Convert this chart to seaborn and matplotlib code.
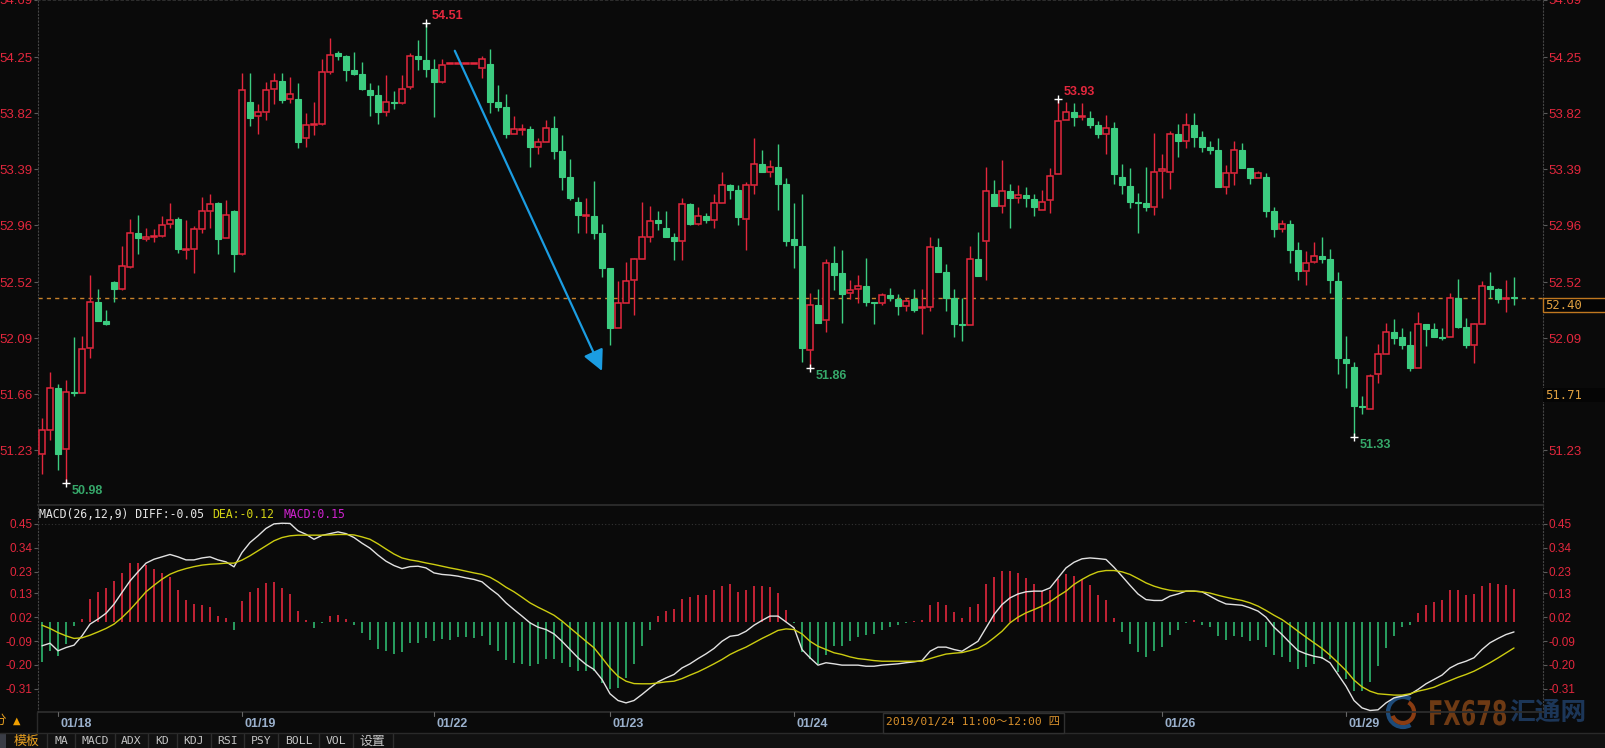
import numpy as np
import seaborn as sns
import matplotlib.pyplot as plt
import matplotlib.transforms as mtrans
from matplotlib.patches import Rectangle, Arc, PathPatch
from matplotlib.textpath import TextPath
from matplotlib.font_manager import FontProperties

# ---- hourly candles ----
opens = [
    51.20, 51.39, 51.71, 51.24, 51.68, 51.67, 52.02, 52.37, 52.22, 52.52,
    52.47, 52.64, 52.90, 52.85, 52.87, 52.88, 52.97, 53.01, 52.77, 52.78,
    52.93, 53.07, 53.13, 52.86, 53.07, 52.74, 53.91, 53.80, 53.83, 54.01,
    54.07, 53.93, 53.93, 53.63, 53.73, 53.74, 54.14, 54.28, 54.26, 54.15,
    54.12, 54.00, 53.96, 53.83, 53.91, 53.90, 54.02, 54.26, 54.23, 54.16,
    54.06, 54.20, 54.20, 54.20, 54.20, 54.17, 54.20, 53.91, 53.87, 53.66,
    53.69, 53.70, 53.56, 53.60, 53.71, 53.53, 53.33, 53.14, 53.03, 53.03,
    52.90, 52.63, 52.17, 52.36, 52.54, 52.70, 52.87, 53.00, 52.94, 52.87,
    52.84, 53.12, 52.97, 53.03, 53.00, 53.13, 53.27, 53.23, 53.01, 53.27,
    53.43, 53.37, 53.41, 53.28, 52.85, 52.80, 52.00, 52.35, 52.23, 52.67,
    52.59, 52.44, 52.47, 52.49, 52.37, 52.36, 52.42, 52.39, 52.34, 52.39,
    52.32, 52.33, 52.79, 52.60, 52.40, 52.20, 52.19, 52.70, 52.84, 53.20,
    53.11, 53.22, 53.17, 53.19, 53.16, 53.08, 53.15, 53.35, 53.77, 53.83,
    53.79, 53.78, 53.73, 53.66, 53.71, 53.33, 53.26, 53.14, 53.13, 53.10,
    53.38, 53.37, 53.66, 53.61, 53.73, 53.64, 53.56, 53.54, 53.25, 53.36,
    53.54, 53.40, 53.32, 53.33, 53.07, 52.93, 52.97, 52.77, 52.61, 52.68,
    52.72, 52.70, 52.53, 51.93, 51.87, 51.57, 51.55, 51.82, 51.97, 52.14,
    52.10, 52.04, 51.86, 52.20, 52.16, 52.10, 52.10, 52.40, 52.18, 52.04,
    52.20, 52.49, 52.47, 52.39, 52.41,
]
highs = [
    51.48, 51.83, 51.74, 51.77, 52.10, 52.11, 52.58, 52.47, 52.31, 52.53,
    52.80, 53.01, 53.04, 52.94, 52.93, 53.03, 53.13, 53.02, 53.00, 52.95,
    53.18, 53.20, 53.14, 53.15, 53.08, 54.13, 54.13, 53.89, 54.06, 54.13,
    54.13, 54.10, 54.05, 53.82, 53.91, 54.24, 54.40, 54.30, 54.27, 54.29,
    54.21, 54.05, 54.04, 54.11, 53.99, 54.11, 54.28, 54.38, 54.51, 54.24,
    54.24, 54.20, 54.20, 54.20, 54.20, 54.26, 54.31, 54.04, 53.97, 53.80,
    53.74, 53.72, 53.63, 53.77, 53.80, 53.65, 53.47, 53.18, 53.17, 53.30,
    52.97, 52.63, 52.53, 52.68, 52.71, 53.14, 53.11, 53.07, 53.07, 52.90,
    53.17, 53.13, 53.10, 53.05, 53.20, 53.37, 53.28, 53.27, 53.29, 53.63,
    53.54, 53.46, 53.58, 53.32, 53.13, 53.20, 52.44, 52.47, 52.70, 52.80,
    52.77, 52.54, 52.58, 52.71, 52.37, 52.44, 52.48, 52.43, 52.40, 52.47,
    52.47, 52.87, 52.86, 52.66, 52.47, 52.40, 52.80, 52.91, 53.41, 53.31,
    53.46, 53.28, 53.27, 53.25, 53.20, 53.23, 53.40, 53.93, 53.91, 53.90,
    53.90, 53.84, 53.76, 53.81, 53.75, 53.43, 53.40, 53.21, 53.41, 53.67,
    53.51, 53.68, 53.74, 53.82, 53.82, 53.68, 53.61, 53.63, 53.42, 53.61,
    53.59, 53.40, 53.38, 53.36, 53.10, 53.00, 53.00, 52.83, 52.76, 52.83,
    52.87, 52.78, 52.60, 52.11, 51.91, 51.65, 51.82, 52.05, 52.21, 52.24,
    52.17, 52.15, 52.29, 52.20, 52.21, 52.17, 52.44, 52.55, 52.25, 52.21,
    52.53, 52.60, 52.48, 52.54, 52.56,
]
lows = [
    51.05, 51.31, 51.08, 50.98, 51.65, 51.67, 51.94, 52.22, 52.19, 52.37,
    52.46, 52.63, 52.74, 52.84, 52.83, 52.87, 52.94, 52.75, 52.70, 52.59,
    52.90, 52.94, 52.74, 52.86, 52.60, 52.73, 53.72, 53.66, 53.77, 53.89,
    53.90, 53.90, 53.55, 53.56, 53.65, 53.73, 54.12, 54.23, 54.07, 54.11,
    54.00, 53.80, 53.74, 53.80, 53.85, 53.89, 54.01, 54.15, 54.10, 53.79,
    54.05, 54.20, 54.20, 54.20, 54.20, 54.09, 53.82, 53.84, 53.63, 53.66,
    53.65, 53.41, 53.51, 53.60, 53.47, 53.23, 53.15, 52.90, 52.90, 52.85,
    52.56, 52.04, 52.17, 52.36, 52.27, 52.70, 52.83, 52.92, 52.87, 52.69,
    52.69, 52.96, 52.96, 52.98, 52.94, 53.13, 53.16, 52.96, 52.77, 53.20,
    53.37, 53.33, 53.08, 52.80, 52.63, 51.91, 51.86, 52.21, 52.14, 52.46,
    52.21, 52.39, 52.36, 52.34, 52.20, 52.35, 52.38, 52.27, 52.30, 52.29,
    52.12, 52.30, 52.60, 52.30, 52.10, 52.07, 52.19, 52.57, 52.54, 53.11,
    53.05, 52.94, 53.13, 53.10, 53.03, 53.08, 53.05, 53.35, 53.77, 53.72,
    53.77, 53.71, 53.63, 53.51, 53.28, 53.20, 53.09, 52.90, 53.07, 53.04,
    53.17, 53.24, 53.48, 53.55, 53.56, 53.52, 53.51, 53.25, 53.20, 53.27,
    53.40, 53.28, 53.32, 53.02, 52.87, 52.91, 52.67, 52.54, 52.50, 52.67,
    52.67, 52.44, 51.82, 51.71, 51.33, 51.51, 51.55, 51.75, 51.97, 52.05,
    52.01, 51.84, 51.86, 52.03, 52.10, 52.08, 52.10, 52.17, 52.02, 51.90,
    52.20, 52.40, 52.36, 52.29, 52.35,
]
closes = [
    51.39, 51.71, 51.20, 51.68, 51.67, 52.01, 52.37, 52.22, 52.20, 52.47,
    52.65, 52.90, 52.86, 52.87, 52.88, 52.96, 53.00, 52.78, 52.78, 52.93,
    53.07, 53.12, 52.85, 53.04, 52.74, 54.00, 53.78, 53.83, 54.00, 54.07,
    53.92, 53.97, 53.60, 53.73, 53.74, 54.14, 54.27, 54.26, 54.15, 54.12,
    54.01, 53.96, 53.83, 53.91, 53.90, 54.01, 54.26, 54.24, 54.16, 54.06,
    54.19, 54.20, 54.20, 54.20, 54.20, 54.24, 53.91, 53.87, 53.66, 53.70,
    53.70, 53.56, 53.60, 53.71, 53.53, 53.33, 53.17, 53.04, 53.04, 52.90,
    52.63, 52.17, 52.36, 52.53, 52.70, 52.87, 52.99, 52.98, 52.87, 52.84,
    53.12, 52.97, 53.03, 53.00, 53.13, 53.27, 53.23, 53.02, 53.27, 53.43,
    53.37, 53.41, 53.28, 52.84, 52.81, 52.02, 52.35, 52.21, 52.67, 52.58,
    52.43, 52.46, 52.49, 52.37, 52.36, 52.42, 52.40, 52.34, 52.38, 52.31,
    52.33, 52.79, 52.60, 52.40, 52.20, 52.19, 52.70, 52.57, 53.22, 53.11,
    53.22, 53.17, 53.19, 53.17, 53.10, 53.14, 53.34, 53.76, 53.83, 53.79,
    53.80, 53.73, 53.66, 53.71, 53.35, 53.27, 53.14, 53.13, 53.10, 53.37,
    53.39, 53.66, 53.61, 53.73, 53.64, 53.56, 53.54, 53.25, 53.36, 53.54,
    53.40, 53.32, 53.36, 53.07, 52.93, 52.97, 52.77, 52.61, 52.67, 52.72,
    52.70, 52.54, 51.94, 51.90, 51.57, 51.56, 51.80, 51.97, 52.14, 52.09,
    52.04, 51.86, 52.20, 52.16, 52.10, 52.09, 52.40, 52.18, 52.04, 52.20,
    52.49, 52.47, 52.39, 52.40, 52.40,
]

# ---- MACD(26,12,9) panel values ----
diff = [
    -0.112, -0.100, -0.135, -0.120, -0.109, -0.066, -0.012, 0.011, 0.038, 0.080,
    0.134, 0.187, 0.229, 0.269, 0.287, 0.298, 0.309, 0.298, 0.284, 0.284,
    0.293, 0.298, 0.284, 0.275, 0.252, 0.318, 0.364, 0.395, 0.429, 0.450,
    0.453, 0.452, 0.418, 0.402, 0.379, 0.397, 0.405, 0.413, 0.405, 0.387,
    0.361, 0.338, 0.306, 0.278, 0.258, 0.244, 0.253, 0.255, 0.247, 0.224,
    0.217, 0.214, 0.209, 0.201, 0.194, 0.183, 0.152, 0.124, 0.086, 0.055,
    0.025, -0.006, -0.026, -0.037, -0.057, -0.091, -0.129, -0.167, -0.198, -0.221,
    -0.267, -0.333, -0.364, -0.375, -0.364, -0.336, -0.306, -0.278, -0.260, -0.244,
    -0.214, -0.195, -0.171, -0.149, -0.124, -0.091, -0.068, -0.063, -0.045, -0.017,
    0.005, 0.025, 0.025, -0.002, -0.029, -0.129, -0.167, -0.201, -0.190, -0.195,
    -0.201, -0.201, -0.201, -0.206, -0.206, -0.201, -0.198, -0.195, -0.190, -0.186,
    -0.180, -0.137, -0.118, -0.118, -0.129, -0.137, -0.114, -0.091, -0.029, 0.032,
    0.078, 0.109, 0.127, 0.137, 0.140, 0.140, 0.155, 0.201, 0.247, 0.273,
    0.289, 0.293, 0.290, 0.286, 0.250, 0.209, 0.167, 0.127, 0.101, 0.097,
    0.097, 0.117, 0.127, 0.140, 0.140, 0.137, 0.117, 0.097, 0.081, 0.078,
    0.075, 0.063, 0.048, 0.020, -0.026, -0.060, -0.098, -0.134, -0.149, -0.160,
    -0.167, -0.190, -0.244, -0.298, -0.364, -0.398, -0.410, -0.407, -0.375, -0.352,
    -0.344, -0.336, -0.313, -0.287, -0.267, -0.247, -0.214, -0.195, -0.183, -0.167,
    -0.129, -0.098, -0.078, -0.060, -0.048,
]
dea = [
    -0.017, -0.032, -0.051, -0.066, -0.078, -0.075, -0.063, -0.048, -0.032, -0.012,
    0.018, 0.054, 0.095, 0.137, 0.167, 0.195, 0.218, 0.233, 0.244, 0.253,
    0.260, 0.264, 0.266, 0.269, 0.269, 0.283, 0.303, 0.326, 0.349, 0.372,
    0.387, 0.395, 0.398, 0.398, 0.398, 0.398, 0.399, 0.401, 0.401, 0.399,
    0.390, 0.379, 0.358, 0.334, 0.311, 0.293, 0.284, 0.278, 0.270, 0.263,
    0.255, 0.247, 0.240, 0.232, 0.224, 0.217, 0.204, 0.183, 0.158, 0.137,
    0.112, 0.086, 0.066, 0.048, 0.029, 0.002, -0.029, -0.060, -0.091, -0.121,
    -0.167, -0.214, -0.252, -0.275, -0.286, -0.287, -0.287, -0.283, -0.278, -0.275,
    -0.263, -0.247, -0.232, -0.214, -0.195, -0.175, -0.152, -0.134, -0.118, -0.098,
    -0.078, -0.060, -0.041, -0.034, -0.037, -0.057, -0.091, -0.114, -0.129, -0.144,
    -0.152, -0.163, -0.171, -0.175, -0.180, -0.183, -0.183, -0.183, -0.183, -0.183,
    -0.183, -0.171, -0.160, -0.150, -0.146, -0.143, -0.134, -0.124, -0.103, -0.075,
    -0.045, -0.006, 0.020, 0.040, 0.055, 0.071, 0.091, 0.117, 0.140, 0.171,
    0.194, 0.214, 0.229, 0.235, 0.235, 0.229, 0.217, 0.198, 0.178, 0.163,
    0.152, 0.144, 0.140, 0.140, 0.140, 0.137, 0.131, 0.121, 0.112, 0.104,
    0.097, 0.086, 0.071, 0.051, 0.029, 0.009, -0.017, -0.045, -0.072, -0.098,
    -0.124, -0.155, -0.190, -0.226, -0.270, -0.301, -0.321, -0.333, -0.336, -0.339,
    -0.339, -0.333, -0.321, -0.313, -0.303, -0.287, -0.272, -0.257, -0.244, -0.229,
    -0.210, -0.190, -0.168, -0.145, -0.122,
]
macd_bar = [
    -0.186, -0.135, -0.158, -0.104, -0.020, 0.011, 0.103, 0.138, 0.154, 0.186,
    0.223, 0.269, 0.272, 0.261, 0.241, 0.223, 0.203, 0.144, 0.098, 0.080,
    0.075, 0.069, 0.026, 0.015, -0.038, 0.095, 0.134, 0.155, 0.177, 0.181,
    0.154, 0.126, 0.048, 0.006, -0.032, -0.008, 0.026, 0.029, 0.011, -0.017,
    -0.054, -0.084, -0.127, -0.138, -0.151, -0.140, -0.101, -0.098, -0.078, -0.091,
    -0.080, -0.083, -0.072, -0.072, -0.075, -0.068, -0.109, -0.137, -0.178, -0.190,
    -0.195, -0.206, -0.198, -0.175, -0.175, -0.190, -0.210, -0.229, -0.226, -0.229,
    -0.283, -0.309, -0.306, -0.260, -0.195, -0.114, -0.037, 0.025, 0.048, 0.060,
    0.106, 0.115, 0.121, 0.124, 0.143, 0.166, 0.171, 0.137, 0.147, 0.166,
    0.166, 0.161, 0.132, 0.055, -0.005, -0.140, -0.171, -0.198, -0.152, -0.114,
    -0.114, -0.091, -0.072, -0.060, -0.057, -0.041, -0.026, -0.014, -0.006, 0.003,
    0.009, 0.075, 0.091, 0.078, 0.043, 0.014, 0.069, 0.083, 0.171, 0.207,
    0.235, 0.235, 0.224, 0.201, 0.171, 0.140, 0.147, 0.194, 0.217, 0.212,
    0.194, 0.167, 0.124, 0.097, 0.017, -0.049, -0.103, -0.140, -0.164, -0.137,
    -0.118, -0.063, -0.041, -0.009, 0.005, -0.014, -0.023, -0.068, -0.083, -0.068,
    -0.072, -0.088, -0.086, -0.118, -0.155, -0.164, -0.186, -0.217, -0.210, -0.195,
    -0.171, -0.171, -0.232, -0.267, -0.318, -0.321, -0.278, -0.206, -0.124, -0.068,
    -0.026, -0.017, 0.040, 0.074, 0.091, 0.100, 0.143, 0.143, 0.121, 0.129,
    0.166, 0.178, 0.174, 0.167, 0.151,
]

price_ticks = [54.69, 54.25, 53.82, 53.39, 52.96, 52.52, 52.09, 51.66, 51.23]
macd_ticks = [0.45, 0.34, 0.23, 0.13, 0.02, -0.09, -0.20, -0.31]
date_pos = [2, 25, 49, 71, 94, 140, 163]
date_labels = ["01/18", "01/19", "01/22", "01/23", "01/24", "01/26", "01/29"]
high_marks = [48, 127]
low_marks = [3, 96, 164]
cursor_price = 51.71
arrow_from = (51.6, 54.30)
arrow_to = (70.0, 51.84)
cursor_time = "2019/01/24 11:00～12:00 四"
tabs = ["模板", "MA", "MACD", "ADX", "KD", "KDJ", "RSI", "PSY", "BOLL", "VOL", "设置"]

BG = "#0a0a0a"
RED = "#e3273d"
GREEN = "#3ccc80"
HGREEN = "#2db86e"
LOWTXT = "#36a86a"
ORANGE = "#c8822a"
BLUE = "#1b9de2"

sns.set_theme(style="dark", rc={"axes.facecolor": "none", "figure.facecolor": BG})
plt.rcParams["font.family"] = ["Liberation Sans", "DejaVu Sans", "Noto Sans CJK SC"]
MONO = ["DejaVu Sans Mono", "Noto Sans CJK SC"]

W, H = 1605, 748
fig = plt.figure(figsize=(W / 100, H / 100), dpi=100)
fig.patch.set_facecolor(BG)
PX = mtrans.Affine2D().scale(1, -1).translate(0, H)  # pixel (from top) -> display


def frac(x0, y0, x1, y1):
    return [x0 / W, 1 - y1 / H, (x1 - x0) / W, (y1 - y0) / H]


L, R = 38, 1543
ax = fig.add_axes(frac(L, 0, R, 505))
axm = fig.add_axes(frac(L, 505, R, 712), sharex=ax)
axd = fig.add_axes(frac(L, 712, R, 733), sharex=ax)

idx = np.arange(len(closes))
o, h, l, c = map(np.array, (opens, highs, lows, closes))
up = c >= o
col = np.where(up, RED, GREEN)
lo_body = np.minimum(o, c)
hi_body = np.maximum(o, c)
body = np.maximum(hi_body - lo_body, 0.004)

# ---- candles ----
ax.vlines(idx, l, lo_body, colors=col, lw=1, zorder=2)
ax.vlines(idx, hi_body, h, colors=col, lw=1, zorder=2)
ax.bar(idx[up], body[up], bottom=lo_body[up], width=0.7, facecolor=BG,
       edgecolor=RED, linewidth=1.1, zorder=3)
ax.bar(idx[~up], body[~up], bottom=lo_body[~up], width=0.7, facecolor=GREEN,
       edgecolor=GREEN, linewidth=0.8, zorder=3)

ax.set_xlim(-0.5, 187.625)
ax.set_ylim(50.81, 54.69)
ax.axhline(closes[-1], color=ORANGE, lw=1, dashes=(3, 3), zorder=1)

for i in high_marks:
    ax.plot(i, highs[i], marker="+", color="white", ms=6, mew=1, zorder=5)
    ax.annotate(f"{highs[i]:.2f}", (i, highs[i]), xytext=(4.3, 5), textcoords="offset points",
                color=RED, fontsize=9, fontweight="bold", va="center", ha="left")
for i in low_marks:
    ax.plot(i, lows[i], marker="+", color="white", ms=6, mew=1, zorder=5)
    ax.annotate(f"{lows[i]:.2f}", (i, lows[i]), xytext=(3.8, -5.5), textcoords="offset points",
                color=LOWTXT, fontsize=9, fontweight="bold", va="center", ha="left")

ax.annotate("", xy=arrow_to, xytext=arrow_from, zorder=6,
            arrowprops=dict(arrowstyle="-|>,head_length=0.9,head_width=0.45", color=BLUE,
                            lw=1.6, shrinkA=0, shrinkB=0, mutation_scale=14))

# ---- MACD panel ----
hist = np.array(macd_bar)
axm.vlines(idx, 0, hist, colors=np.where(hist >= 0, RED, HGREEN), lw=1.2, zorder=2)
sns.lineplot(x=idx, y=diff, ax=axm, color="#e2e2e2", linewidth=1, estimator=None, legend=False, zorder=3)
sns.lineplot(x=idx, y=dea, ax=axm, color="#cccc10", linewidth=1, estimator=None, legend=False, zorder=3)
axm.set_ylim(-0.417, 0.537)
axm.axhline(0.45, color="#333333", lw=0.8, ls=(0, (1, 2)))
axm.set_xlabel("")
axm.set_ylabel("")

for a, ticks, size in ((ax, price_ticks, 9.5), (axm, macd_ticks, 8.5)):
    a.set_yticks(ticks, labels=[f"{v:.2f}" for v in ticks])
    a.tick_params(axis="y", left=True, right=True, labelleft=True, labelright=True,
                  direction="out", length=3, width=0.8, color="#5a5a5a",
                  labelcolor=RED, labelsize=size, pad=1.2)
    a.tick_params(axis="x", bottom=False, labelbottom=False)
    a.grid(False)
    for s in ("left", "right"):
        a.spines[s].set_color("#444444")
        a.spines[s].set_linestyle((0, (1, 2)))
        a.spines[s].set_linewidth(0.8)
ax.spines["top"].set_color("#333333")
ax.spines["top"].set_linestyle((0, (1, 2)))
ax.spines["bottom"].set_color("#2a2a2a")
axm.spines["top"].set_color("#2a2a2a")
axm.spines["bottom"].set_color("#2e2e2e")

# the cursor price box on the right hides the right-hand label underneath it
for tick, v in zip(ax.yaxis.get_major_ticks(), price_ticks):
    if abs(v - cursor_price) < 0.1:
        tick.label2.set_visible(False)

fig.text(39, 514, "MACD(26,12,9) DIFF:" + f"{diff[-1]:.2f}", transform=PX, color="#e6e6e6",
         fontsize=8.3, family=MONO, va="center")
fig.text(212, 514, f"DEA:{dea[-1]:.2f}", transform=PX, color="#d2d214",
         fontsize=8.3, family=MONO, va="center")
fig.text(283, 514, f"MACD:{macd_bar[-1]:.2f}", transform=PX, color="#d022d0",
         fontsize=8.3, family=MONO, va="center")

# ---- date axis ----
axd.set_facecolor("none")
axd.set_ylim(0, 1)
axd.axis("off")
for p, lab in zip(date_pos, date_labels):
    axd.plot([p, p], [1, 0.8], color="#666666", lw=0.8)
    axd.annotate(lab, (p, 0.45), xytext=(1.5, 0), textcoords="offset points",
                 color="#9ab0cc", fontsize=9, fontweight="bold", ha="left", va="center")

# ---- price boxes on the right ----
def price_box(v, txt, edge):
    y = H - ax.transData.transform((0, v))[1]
    fig.add_artist(Rectangle((1542.5, y), 70, 14, transform=PX, facecolor="#050505",
                             edgecolor=edge, lw=1, zorder=5))
    fig.text(1545, y + 7.3, txt, transform=PX, color="#e0a040", fontsize=8.8,
             family=MONO, va="center", zorder=6)


price_box(closes[-1], f"{closes[-1]:.2f}", "#c07820")
price_box(cursor_price, f"{cursor_price:.2f}", "none")

# cursor time box
fig.add_artist(Rectangle((883, 712.5), 181, 20.5, transform=PX, facecolor="#050505",
                         edgecolor="#303030", lw=1, zorder=5))
fig.text(886, 722.5, cursor_time, transform=PX, color="#d8902c", fontsize=8.2,
         family=MONO, va="center", zorder=6)

# ---- watermark ----
fig.add_artist(Arc((1403, H - 712), 30, 30, theta1=60, theta2=300, transform=mtrans.IdentityTransform(),
                   color="#1d4a78", lw=3, zorder=-1))
fig.add_artist(Arc((1403, H - 712), 22, 22, theta1=200, theta2=420, transform=mtrans.IdentityTransform(),
                   color="#8a3c12", lw=3, zorder=-1))
tp = TextPath((0, 0), "FX678", size=34, prop=FontProperties(family="DejaVu Sans", weight="bold"))
tr = mtrans.Affine2D().scale(0.66, 1).translate(1428, H - 725)
fig.add_artist(PathPatch(tr.transform_path(tp), transform=mtrans.IdentityTransform(),
                         facecolor="#6e3a14", edgecolor="none", zorder=-1))
fig.text(1548, 712, "汇通网", transform=PX, color="#1c3658", fontsize=18.5,
         family=["Noto Sans CJK SC"], fontweight="bold", ha="center", va="center", zorder=-1)

# ---- left corner and bottom toolbar ----
fig.add_artist(Rectangle((0, 733), W, 15, transform=PX, facecolor="#111111", edgecolor="none", zorder=-2))
fig.add_artist(Rectangle((0, 733), 6, 15, transform=PX, facecolor="#3a3d46", edgecolor="none", zorder=1))
fig.add_artist(plt.Line2D([0, W], [733, 733], transform=PX, color="#2a2a2a", lw=1))
fig.add_artist(plt.Line2D([37, 37], [712, 733], transform=PX, color="#2a2a2a", lw=1))
fig.text(0, 721, "分", transform=PX, color="#e8a020", fontsize=9, ha="center", va="center")
fig.text(17, 721, "▲", transform=PX, color="#f0a000", fontsize=7, ha="center", va="center",
         family=["DejaVu Sans"])

tab_x = [26, 61, 95, 131, 162, 194, 228, 261, 299, 336, 372]
seps = [47, 75, 115, 148, 177, 211, 244, 278, 319, 353, 393]
for x, t in zip(tab_x, tabs):
    is_cjk = t in ("模板", "设置")
    fig.text(x, 741, t, transform=PX, ha="center", va="center",
             color="#e8a020" if t == "模板" else "#c4c4c4",
             fontsize=9.3 if is_cjk else 8.2,
             family=["Noto Sans CJK SC"] if is_cjk else MONO)
for x in seps:
    fig.add_artist(plt.Line2D([x, x], [734, 748], transform=PX, color="#2e2e2e", lw=1))

fig.savefig("out.png", dpi=100, facecolor=BG)
